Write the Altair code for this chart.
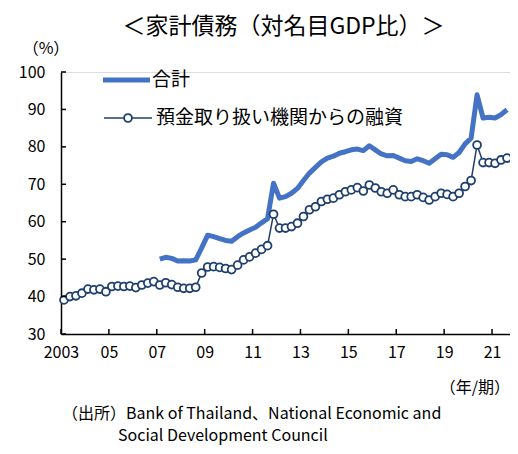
import altair as alt
import pandas as pd

FONT = "Noto Sans CJK JP"
TOTAL_COLOR = "#4472C4"
DEP_COLOR = "#1F3F6E"

start_year = 2003
total_start_year = 2007

# 預金取り扱い機関からの融資 (quarterly, 2003Q1 - 2021Q3)
deposit = [39.1, 40.0, 40.2, 40.9,
           42.0, 41.8, 42.0, 41.3,
           42.7, 42.8, 42.7, 42.8,
           42.4, 43.1, 43.6, 44.0,
           43.1, 43.7, 43.2, 42.5,
           42.2, 42.2, 42.5, 46.3,
           47.9, 48.0, 47.8, 47.5,
           47.2, 48.4, 49.8, 50.6,
           51.6, 52.6, 53.6, 62.0,
           58.3, 58.3, 58.7, 59.6,
           61.4, 63.2, 64.0, 65.4,
           66.0, 66.3, 67.2, 68.0,
           68.5, 69.1, 68.2, 69.8,
           69.0, 68.0, 67.6, 68.5,
           67.2, 66.7, 66.7, 67.2,
           66.5, 65.8, 66.7, 67.6,
           67.3, 66.7, 67.6, 69.4,
           71.0, 80.5, 75.8, 75.8,
           75.6, 76.5, 77.0]

# 合計 (quarterly, 2007Q1 - 2021Q3)
total = [50.0, 50.5, 50.2, 49.5,
         49.6, 49.5, 49.8, 53.0,
         56.4, 56.0, 55.5, 55.0,
         54.8, 56.0, 57.0, 57.8,
         58.5, 59.7, 60.8, 70.3,
         66.3, 66.7, 67.6, 68.9,
         71.0, 73.0, 74.5, 76.0,
         77.0, 77.5, 78.3, 78.7,
         79.2, 79.4, 79.0, 80.3,
         79.2, 78.1, 77.6, 77.7,
         77.0, 76.3, 76.1, 76.8,
         76.3, 75.6, 76.8, 78.0,
         77.9, 77.2, 78.5, 80.8,
         82.3, 93.9, 87.7, 87.9,
         87.7, 88.6, 89.9]

x_tick_values = [2003, 2005, 2007, 2009, 2011, 2013, 2015, 2017, 2019, 2021]
x_tick_labels = ["2003", "05", "07", "09", "11", "13", "15", "17", "19", "21"]
y_tick_values = [30, 40, 50, 60, 70, 80, 90, 100]

title_text = "＜家計債務（対名目GDP比）＞"
legend_labels = ["合計", "預金取り扱い機関からの融資"]
source_lines = ["（出所）Bank of Thailand、National Economic and",
                "Social Development Council"]

W, H = 449, 262

dep_df = pd.DataFrame({"t": [start_year + (i + 0.5) / 4 for i in range(len(deposit))],
                       "v": deposit})
tot_df = pd.DataFrame({"t": [total_start_year + (i + 0.5) / 4 for i in range(len(total))],
                       "v": total})

xscale = alt.Scale(domain=[2003, 2021.75], nice=False, zero=False)
yscale = alt.Scale(domain=[30, 100], nice=False, zero=False)

label_cases = " : ".join(f"datum.value == {v} ? '{l}'" for v, l in zip(x_tick_values, x_tick_labels))
label_expr = label_cases + " : ''"

X = alt.X("t:Q", scale=xscale, title=None,
          axis=alt.Axis(values=x_tick_values, labelExpr=label_expr, labelPadding=10,
                        labelFlush=False, domain=True, domainColor="black", domainWidth=1.5,
                        ticks=False))
Y = alt.Y("v:Q", scale=yscale, title=None,
          axis=alt.Axis(values=y_tick_values, labelPadding=16, domain=True,
                        domainColor="black", domainWidth=1.5, ticks=False))

total_line = alt.Chart(tot_df).mark_line(color=TOTAL_COLOR, strokeWidth=5, strokeJoin="round").encode(
    x=X, y=Y)
dep_line = alt.Chart(dep_df).mark_line(color=DEP_COLOR, strokeWidth=1.5).encode(x=X, y=Y)
dep_pts = alt.Chart(dep_df).mark_point(shape="circle", filled=True, fill="white", stroke=DEP_COLOR,
                                       strokeWidth=1.8, size=62, opacity=1).encode(x=X, y=Y)

# inward ticks
yt = alt.Chart(pd.DataFrame({"v": y_tick_values})).mark_rule(color="black", strokeWidth=1.5).encode(
    y=Y, x=alt.value(0), x2=alt.value(5))
xt = alt.Chart(pd.DataFrame({"t": x_tick_values})).mark_rule(color="black", strokeWidth=1.5).encode(
    x=X, y=alt.value(H), y2=alt.value(H - 5))

one = pd.DataFrame({"a": [0]})

# legend
leg1 = alt.Chart(one).mark_rule(color=TOTAL_COLOR, strokeWidth=5).encode(
    x=alt.value(42), x2=alt.value(89), y=alt.value(8))
leg1t = alt.Chart(one).mark_text(text=legend_labels[0], align="left", baseline="middle",
                                 font=FONT, fontSize=19, color="black").encode(
    x=alt.value(91), y=alt.value(8))
leg2 = alt.Chart(one).mark_rule(color=DEP_COLOR, strokeWidth=1.5).encode(
    x=alt.value(43), x2=alt.value(91), y=alt.value(46))
leg2p = alt.Chart(one).mark_point(shape="circle", filled=True, fill="white",
                                  stroke=DEP_COLOR, strokeWidth=1.8, size=62,
                                  opacity=1).encode(
    x=alt.value(67), y=alt.value(46))
leg2t = alt.Chart(one).mark_text(text=legend_labels[1], align="left", baseline="middle",
                                 font=FONT, fontSize=19, color="black").encode(
    x=alt.value(95), y=alt.value(46))

# annotations
pct = alt.Chart(one).mark_text(text="（%）", align="center", baseline="middle",
                               font=FONT, fontSize=16, color="black").encode(
    x=alt.value(-15), y=alt.value(-23))
unit = alt.Chart(one).mark_text(text="（年/期）", align="right", baseline="middle",
                                font=FONT, fontSize=16, color="black").encode(
    x=alt.value(449), y=alt.value(316))
src1 = alt.Chart(one).mark_text(text=source_lines[0], align="left", baseline="middle",
                                font=FONT, fontSize=16, color="black").encode(
    x=alt.value(1), y=alt.value(342))
src2 = alt.Chart(one).mark_text(text=source_lines[1], align="left", baseline="middle",
                                font=FONT, fontSize=16, color="black").encode(
    x=alt.value(57), y=alt.value(364))

chart = alt.layer(total_line, dep_line, dep_pts, yt, xt, leg1, leg1t, leg2, leg2p, leg2t,
                  pct, unit, src1, src2).properties(
    width=W, height=H,
    autosize=alt.AutoSizeParams(type="none"),
    padding={"left": 53, "top": 64, "right": 0, "bottom": 112},
    title=alt.TitleParams(title_text, font=FONT, fontSize=23, fontWeight="normal",
                          anchor="middle", offset=2, color="black", dx=-2),
).configure_view(stroke=None).configure(background="white").configure_axis(
    grid=False, labelFont=FONT, labelFontSize=16, labelColor="black",
)

chart.save("out.html", embed_options={"renderer": "svg", "actions": False})
